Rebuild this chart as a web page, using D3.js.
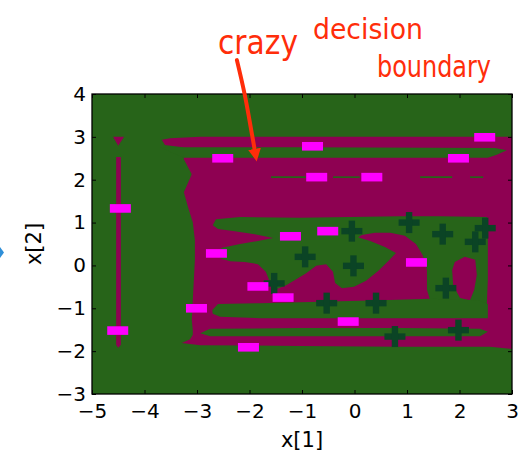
<!DOCTYPE html>
<html><head><meta charset="utf-8">
<script src="https://cdn.jsdelivr.net/npm/d3@7"></script>
<style>body{margin:0;background:#fff}svg{display:block}</style>
</head><body>
<svg id="chart" width="525" height="454"></svg>
<script>
// ---- data (in data coordinates x[1], x[2]) ----
const xTicks = [-5, -4, -3, -2, -1, 0, 1, 2, 3];
const yTicks = [-3, -2, -1, 0, 1, 2, 3, 4];

// class "-" samples (magenta)
const minusPoints = [
  [-2.51, 2.50], [-0.80, 2.78], [2.48, 2.99], [1.98, 2.50], [-0.72, 2.06], [0.33, 2.06],
  [-4.46, 1.33], [-4.51, -1.52], [-1.22, 0.68], [-0.51, 0.80], [-2.63, 0.28], [-1.84, -0.49],
  [-1.36, -0.75], [-3.01, -1.00], [-2.02, -1.91], [-0.12, -1.31], [1.18, 0.07]
];
// class "+" samples (dark green)
const plusPoints = [
  [-0.05, 0.80], [1.04, 1.00], [1.68, 0.73], [2.49, 0.87], [2.30, 0.55], [-0.02, -0.01],
  [1.74, -0.53], [0.41, -0.88], [-0.94, 0.20], [-1.53, -0.42], [-0.53, -0.88], [0.77, -1.66], [1.98, -1.51]
];

// decision regions (maroon = "-" class, green = "+" class), painted in order
const maroonMain = [
  [-3.67, 2.93], [-3.51, 2.97], [-2.94, 3.00], [3.00, 3.00], [3.00, -1.95], [2.58, -1.90],
  [0.87, -1.90], [-1.04, -1.88], [-2.94, -1.86], [-3.29, -1.81], [-3.13, -1.72], [-3.08, -1.62],
  [-3.08, -1.51], [-3.10, -1.27], [-3.08, -0.81], [-3.06, -0.34], [-3.04, 0.13], [-3.04, 0.59],
  [-3.08, 1.01], [-3.17, 1.36], [-3.25, 1.71], [-3.10, 2.13], [-3.25, 2.48], [-3.27, 2.76], [-3.61, 2.81]
];
const maroonLeftTip = [[-4.60, 3.00], [-4.39, 3.00], [-4.50, 2.79]];
const maroonLeftStrip = [[-4.54, 2.53], [-4.45, 2.53], [-4.45, -1.85], [-4.50, -1.92], [-4.54, -1.85]];
const greenTopStripe = [
  [-3.70, 2.76], [-1.04, 2.76], [2.68, 2.74], [2.90, 2.69], [2.71, 2.58], [2.54, 2.51], [-3.25, 2.51], [-3.51, 2.65]
];
const greenCore = [
  [-2.70, 0.94], [-2.64, 1.08], [-2.18, 1.13], [-1.04, 1.11], [-0.09, 1.13], [0.87, 1.15], [1.63, 1.15],
  [2.52, 1.13], [2.54, 0.59], [2.54, -0.34], [2.52, -0.92], [2.35, -0.88], [1.63, -0.85], [1.44, -0.81],
  [1.38, -0.57], [1.38, -0.11], [1.30, 0.24], [1.17, 0.50], [0.96, 0.69], [0.68, 0.76], [0.39, 0.76],
  [0.14, 0.71], [0.07, 0.66], [0.30, 0.57], [0.58, 0.43], [0.79, 0.29], [0.64, 0.10], [0.45, -0.13],
  [0.22, -0.36], [-0.01, -0.50], [-0.24, -0.53], [-0.37, -0.41], [-0.41, -0.15], [-0.54, 0.03],
  [-0.73, -0.01], [-0.92, -0.18], [-1.11, -0.32], [-1.30, -0.46], [-1.48, -0.55], [-1.61, -0.39],
  [-1.69, -0.15], [-1.84, 0.03], [-2.09, 0.08], [-2.37, 0.10], [-2.56, 0.17], [-2.64, 0.29],
  [-2.52, 0.41], [-2.18, 0.50], [-1.84, 0.57], [-1.55, 0.64], [-1.90, 0.73], [-2.28, 0.80], [-2.60, 0.85]
];
const maroonHole = [
  [1.91, 0.08], [2.10, 0.20], [2.30, 0.13], [2.33, -0.22], [2.28, -0.57], [2.20, -0.81], [2.01, -0.76], [1.88, -0.46], [1.86, -0.11]
];
const greenLowStripe = [
  [-2.71, -1.04], [-2.60, -0.90], [-1.80, -0.88], [-0.66, -0.85], [0.49, -0.81], [1.44, -0.78], [2.35, -0.81],
  [2.54, -0.90], [2.54, -1.23], [1.63, -1.23], [-0.09, -1.23], [-1.80, -1.23], [-2.56, -1.20], [-2.70, -1.13]
];
const greenThinStripe = [
  [-2.94, -1.58], [-2.75, -1.48], [-1.04, -1.46], [0.87, -1.46], [2.39, -1.48], [2.54, -1.55],
  [2.39, -1.65], [0.87, -1.65], [-1.04, -1.65], [-2.75, -1.65]
];
// hairline green slivers at x[2] ~ 2.06 : [x start, x end, x[2]]
const greenSlivers = [[-1.59, -0.93, 2.06], [-0.41, 0.10, 2.06], [1.25, 1.86, 2.06], [2.20, 2.45, 2.06]];

// annotation arrow (data coords; starts above the axes)
const arrowPath = [[-2.24, 4.79], [-2.09, 3.98], [-1.95, 3.04], [-1.90, 2.69]];

// ---- drawing ----
const GREEN = "#276419", MAROON = "#8e0152", MAGENTA = "#ff00ff", PLUS = "#0b4425", RED = "#ff2d0a";
const svg = d3.select("#chart");
const x = d3.scaleLinear().domain([-5, 3]).range([92, 512]);
const y = d3.scaleLinear().domain([-3, 4]).range([394, 94]);
const font = "DejaVu Sans, Liberation Sans, sans-serif";
const intFmt = d3.format("d");

svg.append("defs").append("clipPath").attr("id", "plotclip")
  .append("rect").attr("x", x(-5)).attr("y", y(4)).attr("width", x(3) - x(-5)).attr("height", y(-3) - y(4));

const plot = svg.append("g").attr("clip-path", "url(#plotclip)");
plot.append("rect").attr("x", x(-5)).attr("y", y(4)).attr("width", x(3) - x(-5)).attr("height", y(-3) - y(4)).attr("fill", GREEN);

const poly = d3.line().x(d => x(d[0])).y(d => y(d[1])).curve(d3.curveLinearClosed);
const layers = [
  [maroonMain, MAROON], [maroonLeftTip, MAROON], [maroonLeftStrip, MAROON],
  [greenTopStripe, GREEN], [greenCore, GREEN], [maroonHole, MAROON],
  [greenLowStripe, GREEN], [greenThinStripe, GREEN]
];
layers.forEach(([pts, c]) => plot.append("path").attr("d", poly(pts)).attr("fill", c));

plot.selectAll("line.sliver").data(greenSlivers).join("line").attr("class", "sliver")
  .attr("x1", d => x(d[0])).attr("x2", d => x(d[1])).attr("y1", d => y(d[2])).attr("y2", d => y(d[2]))
  .attr("stroke", GREEN).attr("stroke-width", 1.6);

// plus markers
const pg = plot.append("g").attr("fill", PLUS);
plusPoints.forEach(p => {
  const cx = x(p[0]), cy = y(p[1]);
  pg.append("rect").attr("x", cx - 10.5).attr("y", cy - 3.2).attr("width", 21).attr("height", 6.4);
  pg.append("rect").attr("x", cx - 3.2).attr("y", cy - 10.5).attr("width", 6.4).attr("height", 21);
});
// minus markers
plot.selectAll("rect.minus").data(minusPoints).join("rect").attr("class", "minus")
  .attr("x", d => x(d[0]) - 10.5).attr("y", d => y(d[1]) - 4.3).attr("width", 21).attr("height", 8.6)
  .attr("fill", MAGENTA);

// axes
const ax = svg.append("g").attr("font-family", font);
const axBottom = ax.append("g").attr("transform", `translate(0,${y(-3)})`)
  .call(d3.axisBottom(x).tickValues(xTicks).tickFormat(intFmt).tickSize(-4).tickPadding(10));
const axLeft = ax.append("g").attr("transform", `translate(${x(-5)},0)`)
  .call(d3.axisLeft(y).tickValues(yTicks).tickFormat(intFmt).tickSize(-4).tickPadding(6));
const axTop = ax.append("g").attr("transform", `translate(0,${y(4)})`)
  .call(d3.axisTop(x).tickValues(xTicks).tickSize(-4).tickFormat(""));
const axRight = ax.append("g").attr("transform", `translate(${x(3)},0)`)
  .call(d3.axisRight(y).tickValues(yTicks).tickSize(-4).tickFormat(""));
[axBottom, axLeft, axTop, axRight].forEach(g => {
  g.select(".domain").remove();
  g.selectAll("text").attr("font-size", 20).attr("fill", "#000").attr("font-family", font);
  g.selectAll("line").attr("stroke", "#000");
});
svg.append("rect").attr("x", x(-5)).attr("y", y(4)).attr("width", x(3) - x(-5)).attr("height", y(-3) - y(4))
  .attr("fill", "none").attr("stroke", "#000").attr("stroke-width", 1.3);

svg.append("text").attr("x", (x(-5) + x(3)) / 2).attr("y", 447).attr("text-anchor", "middle")
  .attr("font-family", font).attr("font-size", 21).text("x[1]");
svg.append("text").attr("transform", `translate(41,${(y(4) + y(-3)) / 2}) rotate(-90)`).attr("text-anchor", "middle")
  .attr("font-family", font).attr("font-size", 21).text("x[2]");

// small blue fragment at the left edge (part of the original slide)
svg.append("path").attr("d", "M0,247 L4,252.5 L0,258 Z").attr("fill", "#2f8fd8");

// handwritten-style annotation
const ann = svg.append("g").attr("fill", RED).attr("font-family", font);
ann.append("text").attr("x", 218).attr("y", 54).attr("font-size", 34).attr("textLength", 80)
  .attr("lengthAdjust", "spacingAndGlyphs").text("crazy");
ann.append("text").attr("x", 313).attr("y", 39).attr("font-size", 28).attr("textLength", 110)
  .attr("lengthAdjust", "spacingAndGlyphs").text("decision");
ann.append("text").attr("x", 377).attr("y", 77).attr("font-size", 30).attr("textLength", 114)
  .attr("lengthAdjust", "spacingAndGlyphs").text("boundary");

svg.select("defs").append("marker").attr("id", "ah").attr("viewBox", "0 0 10 10")
  .attr("refX", 1).attr("refY", 5).attr("markerWidth", 3.2).attr("markerHeight", 3.2).attr("orient", "auto")
  .append("path").attr("d", "M0,0 L10,5 L0,10 Z").attr("fill", RED);
svg.append("path").attr("d", d3.line().x(d => x(d[0])).y(d => y(d[1])).curve(d3.curveCatmullRom)(arrowPath))
  .attr("fill", "none").attr("stroke", RED).attr("stroke-width", 4).attr("stroke-linecap", "round")
  .attr("marker-end", "url(#ah)");
</script>
</body></html>
